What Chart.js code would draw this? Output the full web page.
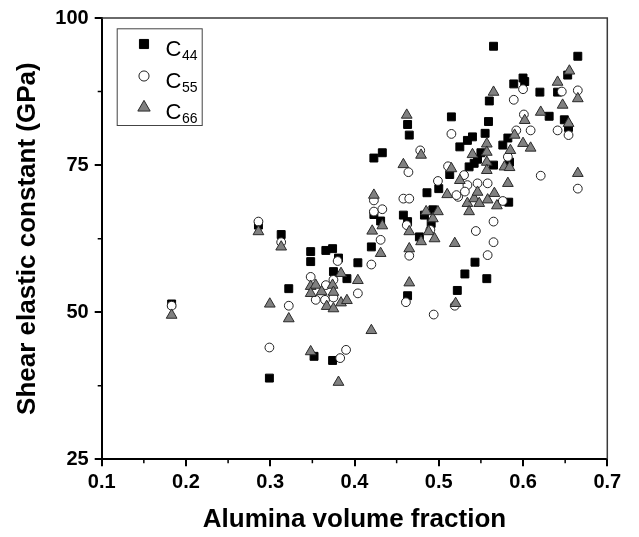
<!DOCTYPE html>
<html>
<head>
<meta charset="utf-8">
<script src="https://cdn.jsdelivr.net/npm/chart.js@4.4.1/dist/chart.umd.min.js"></script>
<style>
  html, body { margin: 0; padding: 0; background: #fff; }
  #wrap { width: 639px; height: 537px; }
</style>
</head>
<body>
<div id="wrap"><canvas id="c" width="639" height="537"></canvas></div>
<script>
// ---- Data ----
const seriesNames = ['C44', 'C55', 'C66'];
const xTickValues = [0.1, 0.2, 0.3, 0.4, 0.5, 0.6, 0.7];
const yTickValues = [25, 50, 75, 100];

const c44x = [0.183,0.286,0.299,0.313,0.322,0.348,0.348,0.352,0.366,0.374,0.375,0.381,0.391,0.374,0.404,0.420,0.423,0.433,0.431,0.423,0.458,0.463,0.463,0.465,0.477,0.463,0.486,0.483,0.493,0.491,0.500,0.513,0.515,0.525,0.534,0.540,0.536,0.542,0.550,0.546,0.555,0.559,0.560,0.565,0.576,0.582,0.583,0.589,0.600,0.602,0.620,0.641,0.653,0.665,0.631,0.649,0.654,0.531,0.543,0.557,0.522,0.565,0.584];
const c44y = [51.4,64.8,38.8,63.2,54.0,60.3,58.6,42.5,60.5,60.8,56.9,59.2,55.7,41.8,58.4,61.1,76.2,77.1,65.5,66.6,66.5,65.4,81.9,80.1,62.8,52.8,70.3,66.5,67.4,65.1,71.0,73.4,83.2,78.1,79.2,79.8,74.7,75.3,77.1,76.0,80.4,82.4,85.9,95.2,78.4,79.6,68.7,88.8,89.8,89.2,87.4,87.4,90.3,93.5,83.3,82.7,81.4,56.5,58.5,55.7,53.7,75.0,75.5];

const c55x = [0.183,0.286,0.299,0.313,0.322,0.348,0.354,0.380,0.383,0.390,0.365,0.375,0.375,0.366,0.404,0.420,0.431,0.423,0.433,0.423,0.458,0.465,0.464,0.478,0.462,0.465,0.461,0.494,0.499,0.490,0.519,0.515,0.511,0.530,0.523,0.534,0.546,0.558,0.576,0.544,0.565,0.565,0.558,0.582,0.592,0.601,0.609,0.589,0.600,0.641,0.654,0.665,0.646,0.621,0.665,0.521,0.531];
const c55y = [51.1,65.4,44.0,61.9,51.1,56.0,52.1,58.7,42.2,43.6,52.1,52.5,55.5,54.6,53.2,58.1,62.3,67.1,67.5,69.0,69.3,69.3,73.8,77.5,64.8,59.6,51.7,49.6,72.3,64.0,51.1,80.3,74.8,73.3,69.6,71.6,71.9,71.9,68.9,63.8,65.4,61.9,59.7,76.4,80.9,83.6,80.9,86.1,87.9,80.9,80.1,87.7,87.5,73.2,71.0,69.9,70.5];

const c66x = [0.183,0.286,0.2995,0.313,0.322,0.348,0.348,0.354,0.361,0.348,0.367,0.375,0.384,0.391,0.374,0.375,0.384,0.381,0.404,0.420,0.423,0.421,0.433,0.431,0.458,0.462,0.479,0.465,0.465,0.465,0.520,0.519,0.479,0.488,0.495,0.485,0.493,0.499,0.515,0.525,0.510,0.540,0.557,0.557,0.557,0.557,0.578,0.584,0.582,0.585,0.590,0.600,0.609,0.602,0.621,0.565,0.641,0.655,0.665,0.647,0.654,0.665,0.534,0.536,0.542,0.548,0.558,0.566,0.569,0.546];
const c66y = [49.5,63.7,51.4,61.1,48.9,43.3,54.4,54.6,53.5,53.2,51.0,50.6,51.6,52.0,54.6,53.4,56.6,38.1,55.4,46.9,69.9,63.8,64.7,60.0,75.1,83.5,76.7,63.7,60.8,55.0,51.5,61.7,62.0,63.7,62.5,67.1,65.9,67.1,74.4,72.4,70.0,76.8,78.6,77.2,75.5,74.1,74.7,74.6,71.9,77.5,80.1,78.7,77.9,82.6,84.0,87.4,89.1,91.0,86.3,85.2,82.1,73.6,68.5,67.1,69.3,68.5,69.1,70.2,68.1,70.4];

function pts(xs, ys) { return xs.map((x, i) => ({ x: x, y: ys[i] })); }

// ---- Styles ----
const styles = [
  { pointStyle: 'rect', radius: 5.6, bg: '#000000', border: '#000000', bw: 1 },
  { pointStyle: 'circle', radius: 4.4, bg: '#ffffff', border: '#222222', bw: 1 },
  { pointStyle: 'triangle', radius: 6.2, bg: '#808080', border: '#2a2a2a', bw: 1 }
];

const FONT = '"Liberation Sans", Arial, Helvetica, sans-serif';

function drawMarker(ctx, st, x, y, r) {
  ctx.save();
  ctx.fillStyle = st.bg;
  ctx.strokeStyle = st.border;
  ctx.lineWidth = st.bw;
  ctx.beginPath();
  if (st.pointStyle === 'rect') {
    const s = Math.SQRT1_2 * r;
    ctx.rect(x - s, y - s, 2 * s, 2 * s);
  } else if (st.pointStyle === 'circle') {
    ctx.arc(x, y, r, 0, Math.PI * 2);
  } else {
    let rad = 0;
    ctx.moveTo(x + Math.sin(rad) * r, y - Math.cos(rad) * r);
    rad += 2 * Math.PI / 3;
    ctx.lineTo(x + Math.sin(rad) * r, y - Math.cos(rad) * r);
    rad += 2 * Math.PI / 3;
    ctx.lineTo(x + Math.sin(rad) * r, y - Math.cos(rad) * r);
    ctx.closePath();
  }
  ctx.fill();
  ctx.stroke();
  ctx.restore();
}

const framePlugin = {
  id: 'frame',
  afterDatasetsDraw(chart) {
    const { ctx, chartArea: a, scales } = chart;
    ctx.save();
    // top & right frame
    ctx.strokeStyle = '#3a3a3a';
    ctx.lineWidth = 1.5;
    ctx.beginPath();
    ctx.moveTo(a.left, a.top);
    ctx.lineTo(a.right, a.top);
    ctx.lineTo(a.right, a.bottom);
    ctx.stroke();
    // minor ticks
    ctx.strokeStyle = '#000';
    ctx.lineWidth = 1.5;
    ctx.beginPath();
    for (let i = 0; i < xTickValues.length - 1; i++) {
      const v = (xTickValues[i] + xTickValues[i + 1]) / 2;
      const px = scales.x.getPixelForValue(v);
      ctx.moveTo(px, a.bottom);
      ctx.lineTo(px, a.bottom + 4);
    }
    for (let i = 0; i < yTickValues.length - 1; i++) {
      const v = (yTickValues[i] + yTickValues[i + 1]) / 2;
      const py = scales.y.getPixelForValue(v);
      ctx.moveTo(a.left, py);
      ctx.lineTo(a.left - 4, py);
    }
    ctx.stroke();

    // legend
    const bx = 116.7, by = 28.3, bw = 85, bh = 96.7;
    ctx.fillStyle = '#fff';
    ctx.fillRect(bx, by, bw, bh);
    ctx.strokeStyle = '#444';
    ctx.lineWidth = 1;
    ctx.strokeRect(bx + 0.5, by + 0.5, bw, bh);
    const rowY = [44, 76, 107.5];
    const baseY = [56, 87.5, 119];
    seriesNames.forEach((name, i) => {
      const st = styles[i];
      drawMarker(ctx, st, 144, rowY[i], st.radius * 1.15);
      ctx.fillStyle = '#000';
      ctx.textAlign = 'left';
      ctx.textBaseline = 'alphabetic';
      ctx.font = '22px ' + FONT;
      ctx.fillText(name.charAt(0), 165.5, baseY[i]);
      ctx.font = '14px ' + FONT;
      ctx.fillText(name.slice(1), 182, baseY[i] + 4);
    });
    ctx.restore();
  }
};

const datasets = [
  { label: seriesNames[0], data: pts(c44x, c44y), order: 3 },
  { label: seriesNames[1], data: pts(c55x, c55y), order: 2 },
  { label: seriesNames[2], data: pts(c66x, c66y), order: 1 }
].map((d, i) => Object.assign(d, {
  pointStyle: styles[i].pointStyle,
  pointRadius: styles[i].radius,
  pointHoverRadius: styles[i].radius,
  backgroundColor: styles[i].bg,
  borderColor: styles[i].border,
  borderWidth: styles[i].bw,
  showLine: false
}));

new Chart(document.getElementById('c'), {
  type: 'scatter',
  data: { datasets: datasets },
  options: {
    responsive: false,
    animation: false,
    devicePixelRatio: 1,
    layout: { padding: { top: 15.7, right: 31.7, left: 0, bottom: 0 } },
    plugins: { legend: { display: false }, tooltip: { enabled: false } },
    scales: {
      x: {
        type: 'linear',
        min: 0.1, max: 0.7,
        afterFit(s) { s.height = 77.7; },
        afterBuildTicks(s) { s.ticks = xTickValues.map(v => ({ value: v })); },
        ticks: {
          autoSkip: false,
          padding: 4,
          color: '#000',
          font: { family: FONT, size: 20, weight: 'bold' },
          callback: v => Number(v).toFixed(1)
        },
        grid: { drawOnChartArea: false, drawTicks: true, tickLength: 7, color: '#000', lineWidth: 2 },
        border: { display: true, color: '#000', width: 2 },
        title: {
          display: true,
          text: 'Alumina volume fraction',
          color: '#000',
          font: { family: FONT, size: 26, weight: 'bold' },
          padding: { top: 0, bottom: 1.4 }
        }
      },
      y: {
        type: 'linear',
        min: 25, max: 100,
        afterFit(s) { s.width = 101.7; },
        afterBuildTicks(s) { s.ticks = yTickValues.map(v => ({ value: v })); },
        ticks: {
          autoSkip: false,
          padding: 6,
          color: '#000',
          font: { family: FONT, size: 20, weight: 'bold' },
          callback: v => String(v)
        },
        grid: { drawOnChartArea: false, drawTicks: true, tickLength: 7, color: '#000', lineWidth: 2 },
        border: { display: true, color: '#000', width: 2 },
        title: {
          display: true,
          text: 'Shear elastic constant (GPa)',
          color: '#000',
          font: { family: FONT, size: 26, weight: 'bold' },
          padding: { top: 12.4, bottom: 0 }
        }
      }
    }
  },
  plugins: [framePlugin]
});
</script>
</body>
</html>
